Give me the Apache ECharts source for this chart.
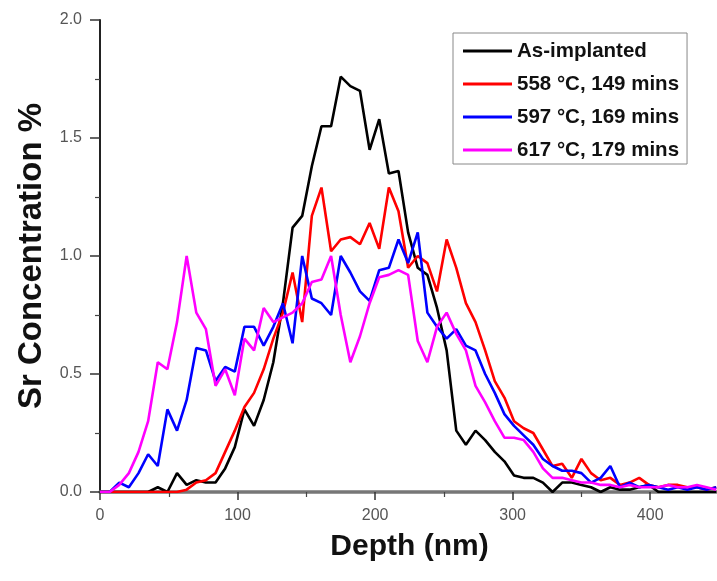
<!DOCTYPE html>
<html>
<head>
<meta charset="utf-8">
<script src="https://cdn.jsdelivr.net/npm/echarts@6/dist/echarts.min.js"></script>
<style>
html,body{margin:0;padding:0;background:#fff;}
#chart{width:717px;height:581px;}
</style>
</head>
<body>
<div id="chart"></div>
<script>
var depth = [0,7,14,21,28,35,42,49,56,63,70,77,84,91,98,105,112,119,126,133,140,147,154,161,168,175,182,189,196,203,210,217,224,231,238,245,252,259,266,273,280,287,294,301,308,315,322,329,336,343,350,357,364,371,378,385,392,399,406,413,420,427,434,441,448];

var asImplanted = [0,0,0,0,0,0,0.02,0,0.08,0.03,0.05,0.04,0.04,0.1,0.19,0.35,0.28,0.39,0.55,0.8,1.12,1.17,1.38,1.55,1.55,1.76,1.72,1.70,1.45,1.58,1.35,1.36,1.1,0.95,0.92,0.78,0.6,0.26,0.2,0.26,0.22,0.17,0.13,0.07,0.06,0.06,0.04,0,0.04,0.04,0.03,0.02,0,0.02,0.01,0.01,0.02,0.03,0,0,0,0,0,0,0];

var t558 = [0,0,0,0,0,0,0,0,0,0.01,0.04,0.05,0.08,0.17,0.26,0.36,0.42,0.52,0.65,0.76,0.93,0.72,1.17,1.29,1.02,1.07,1.08,1.05,1.14,1.03,1.29,1.19,0.95,1.0,0.97,0.85,1.07,0.95,0.8,0.72,0.6,0.47,0.4,0.3,0.27,0.25,0.18,0.11,0.12,0.06,0.14,0.08,0.05,0.06,0.03,0.04,0.06,0.03,0.02,0.03,0.03,0.02,0.02,0.01,0.02];

var t597 = [0,0,0.04,0.02,0.08,0.16,0.11,0.35,0.26,0.39,0.61,0.6,0.47,0.53,0.51,0.7,0.7,0.62,0.7,0.8,0.63,1.0,0.82,0.8,0.75,1.0,0.93,0.85,0.81,0.94,0.95,1.07,0.97,1.1,0.76,0.7,0.65,0.69,0.62,0.6,0.5,0.42,0.33,0.28,0.24,0.2,0.14,0.11,0.09,0.09,0.08,0.04,0.06,0.11,0.02,0.04,0.02,0.03,0.02,0.01,0.02,0.01,0.02,0.01,0.02];

var t617 = [0,0,0.03,0.08,0.17,0.3,0.55,0.52,0.72,1.0,0.76,0.69,0.45,0.52,0.41,0.65,0.6,0.78,0.72,0.74,0.76,0.8,0.89,0.9,1.0,0.75,0.55,0.66,0.8,0.91,0.92,0.94,0.92,0.64,0.55,0.7,0.76,0.67,0.6,0.45,0.38,0.3,0.23,0.23,0.22,0.17,0.1,0.06,0.06,0.05,0.04,0.04,0.03,0.03,0.02,0.03,0.02,0.02,0.02,0.03,0.02,0.02,0.03,0.02,0.01];

var xTicks = [0,100,200,300,400];
var seriesNames = ['As-implanted','558 \u00B0C, 149 mins','597 \u00B0C, 169 mins','617 \u00B0C, 179 mins'];
var seriesColors = ['#000000','#ff0000','#0000ff','#ff00ff'];
var seriesValues = [asImplanted, t558, t597, t617];

function pairs(v){ return depth.map(function(d,i){ return [d, v[i]]; }); }

var chart = echarts.init(document.getElementById('chart'), null, {renderer:'canvas'});
var font = 'Liberation Sans, Arial, sans-serif';
chart.setOption({
  animation:false,
  backgroundColor:'#fff',
  grid:{left:100, top:20, width:619, height:472, containLabel:false, outerBoundsMode:'none'},
  legend:{
    orient:'vertical', left:453, top:33,
    padding:[6,8,2,10], itemGap:9,
    itemWidth:49, itemHeight:3, icon:'rect',
    borderColor:'#888', borderWidth:1, backgroundColor:'#fff',
    textStyle:{fontFamily:font, fontWeight:'bold', fontSize:20.5, color:'#111', lineHeight:24},
    data: seriesNames
  },
  xAxis:[{
    type:'value', min:0, max:450, interval:100,
    name:'Depth (nm)', nameLocation:'middle', nameGap:40,
    nameTextStyle:{fontFamily:font, fontWeight:'bold', fontSize:30, color:'#111'},
    axisLine:{show:true, onZero:false, lineStyle:{color:'#333', width:2}},
    axisTick:{show:true, inside:false, length:8, lineStyle:{color:'#333', width:1.5}},
    minorTick:{show:true, splitNumber:2, length:5, lineStyle:{color:'#444', width:1.2}},
    axisLabel:{fontFamily:font, fontSize:16, color:'#555', margin:16,
      formatter:function(v){ return xTicks.indexOf(v) >= 0 ? String(v) : ''; }},
    splitLine:{show:false}
  },{
    type:'value', position:'top', min:0, max:450,
    axisLine:{show:true, lineStyle:{color:'#777', width:3.5}},
    axisTick:{show:false}, axisLabel:{show:false}, splitLine:{show:false}
  }],
  yAxis:{
    type:'value', min:0, max:2, interval:0.5,
    name:'Sr Concentration %', nameLocation:'middle', nameGap:52, nameRotate:90,
    nameTextStyle:{fontFamily:font, fontWeight:'bold', fontSize:33, color:'#111'},
    axisLine:{show:true, onZero:false, lineStyle:{color:'#222', width:2}},
    axisTick:{show:true, inside:false, length:10, lineStyle:{color:'#333', width:1.5}},
    minorTick:{show:true, splitNumber:2, length:5, lineStyle:{color:'#444', width:1.2}},
    axisLabel:{fontFamily:font, fontSize:16, color:'#555', margin:18, formatter:function(v){return v.toFixed(1);}},
    splitLine:{show:false}
  },
  series: seriesNames.map(function(n,i){
    return {
      name:n, type:'line', data:pairs(seriesValues[i]),
      showSymbol:false, symbol:'none',
      lineStyle:{color:seriesColors[i], width:2.6},
      itemStyle:{color:seriesColors[i]},
      clip:true
    };
  })
});
</script>
</body>
</html>
